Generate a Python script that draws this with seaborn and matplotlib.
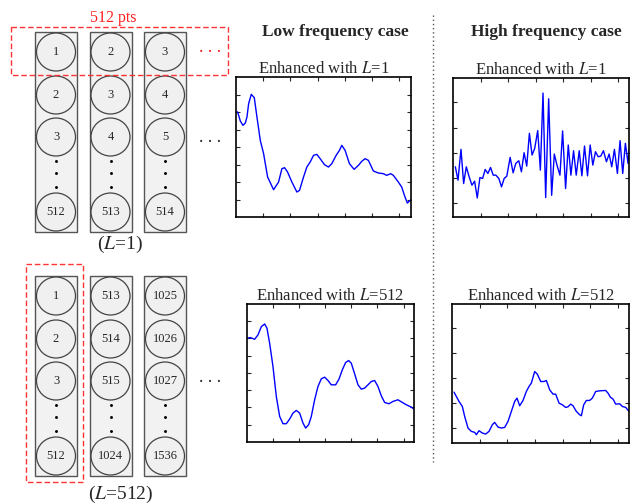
import matplotlib
matplotlib.use("Agg")
import matplotlib.pyplot as plt
from matplotlib.patches import Rectangle, Ellipse
import seaborn as sns

# frame contents for the two hop sizes
cols_l1 = [["1", "2", "3", "512"], ["2", "3", "4", "513"], ["3", "4", "5", "514"]]
cols_l512 = [["1", "2", "3", "512"], ["513", "514", "515", "1024"], ["1025", "1026", "1027", "1536"]]

# traces (sample index, amplitude in arbitrary units)
low_l1_x = [0, 5, 13, 21, 28, 33, 38, 46, 55, 63, 73, 83, 95, 113, 128, 138, 146, 155, 168, 183,
            191, 203, 213, 223, 233, 243, 253, 266, 278, 288, 301, 311, 318, 328, 341, 355, 368, 378,
            388, 398, 413, 428, 443, 453, 465, 473, 488, 498, 508, 515, 526]
low_l1_y = [315, 315, 288, 275, 282, 300, 340, 368, 358, 300, 230, 190, 120, 82, 105, 145, 148, 135,
            105, 75, 80, 120, 150, 165, 185, 188, 175, 157, 150, 160, 185, 200, 215, 200, 160, 143, 155,
            167, 175, 170, 138, 132, 130, 125, 130, 125, 105, 90, 60, 42, 52]

high_l1_x = [7, 15, 24, 32, 40, 48, 57, 65, 73, 81, 89, 97, 105, 113, 121, 129, 138, 146, 154, 162,
             172, 181, 189, 198, 206, 214, 222, 230, 238, 246, 255, 263, 271, 279, 288, 297, 305, 313,
             322, 330, 339, 347, 355, 363, 371, 380, 388, 396, 405, 413, 421, 429, 437, 445, 453, 462,
             470, 478, 486, 495, 503, 511, 519, 527, 530]
high_l1_y = [150, 110, 202, 100, 150, 122, 95, 107, 57, 118, 115, 142, 130, 148, 125, 125, 115, 90,
             115, 122, 178, 132, 160, 168, 135, 192, 152, 250, 185, 205, 258, 140, 370, 58, 353, 65, 188,
             155, 125, 257, 85, 215, 125, 198, 125, 198, 123, 212, 123, 215, 155, 195, 180, 182, 198, 165,
             188, 150, 202, 130, 228, 130, 220, 160, 200]

low_l512_x = [0, 10, 23, 33, 43, 53, 60, 68, 78, 88, 98, 108, 118, 128, 138, 148, 158, 168, 176, 185,
              193, 203, 213, 223, 233, 243, 253, 266, 276, 286, 296, 305, 313, 323, 333, 343, 353, 363,
              373, 383, 393, 403, 413, 426, 438, 453, 466, 478, 493, 501]
low_l512_y = [312, 314, 309, 322, 347, 355, 342, 297, 227, 137, 77, 55, 55, 69, 87, 95, 87, 57, 42, 52,
              77, 127, 167, 190, 195, 185, 172, 172, 189, 217, 239, 245, 237, 205, 172, 159, 162, 172,
              182, 185, 167, 139, 119, 115, 122, 127, 119, 112, 105, 99]

high_l512_x = [6, 13, 21, 31, 38, 48, 58, 68, 73, 81, 91, 101, 111, 121, 128, 138, 148, 158, 168, 178,
               188, 195, 203, 213, 223, 231, 238, 248, 256, 266, 276, 283, 293, 303, 311, 321, 331, 341,
               348, 356, 363, 373, 383, 388, 395, 403, 413, 421, 431, 443, 461, 468, 475, 483, 491, 503,
               511, 521, 531]
high_l512_y = [153, 140, 125, 110, 80, 45, 35, 32, 25, 37, 30, 27, 35, 55, 62, 48, 45, 47, 65, 95, 125,
               135, 112, 128, 155, 170, 180, 215, 207, 185, 185, 188, 160, 147, 147, 120, 115, 107, 109,
               117, 112, 95, 85, 82, 115, 128, 128, 135, 155, 157, 158, 150, 138, 132, 117, 118, 110, 107,
               95]

sns.set_style("white")
plt.rcParams["font.family"] = ["Liberation Serif", "DejaVu Serif"]
plt.rcParams["mathtext.fontset"] = "stix"

fig = plt.figure(figsize=(6.32, 5.04), dpi=100)

# schematic layer in pixel units
dia = fig.add_axes([0, 0, 1, 1])
dia.set_xlim(0, 632)
dia.set_ylim(504, 0)
dia.axis("off")

col_x0, col_dx = 56, 54.5
circle_dy = [20, 63, 105, 180]
dot_dy = [129, 141, 155]


def draw_frames(ax, top, cols):
    for i, labels in enumerate(cols):
        cx = col_x0 + i * col_dx
        ax.add_patch(Rectangle((cx - 21, top), 42, 200, fc="#f2f2f2", ec="#555555", lw=1))
        for lab, dy in zip(labels, circle_dy):
            ax.add_patch(Ellipse((cx, top + dy), 39, 38, fc="#f0f0f0", ec="#444444", lw=0.9))
            ax.text(cx, top + dy, lab, ha="center", va="center", fontsize=9)
        ax.plot([cx] * 3, [top + d for d in dot_dy], ls="none", marker="o", ms=1.1, color="k")


draw_frames(dia, 32, cols_l1)
draw_frames(dia, 276, cols_l512)

dia.add_patch(Rectangle((11, 27), 217, 48, fill=False, ec="#ff3333", ls=(0, (4, 2)), lw=1))
dia.add_patch(Rectangle((26, 264), 57, 218, fill=False, ec="#ff3333", ls=(0, (4, 2)), lw=1))
dia.text(113, 18, "512 pts", color="#ff2222", ha="center", va="center", fontsize=11.5)
dia.text(210, 47, ". . .", color="#ff2222", ha="center", va="center", fontsize=13)
dia.text(210, 137, ". . .", ha="center", va="center", fontsize=13)
dia.text(210, 378, ". . .", ha="center", va="center", fontsize=13)
dia.text(120, 244, "($L$=1)", ha="center", va="center", fontsize=14)
dia.text(121, 494, "($L$=512)", ha="center", va="center", fontsize=14)

dia.text(335, 32, "Low frequency case", ha="center", va="center", fontsize=12.5, fontweight="bold")
dia.text(546, 32, "High frequency case", ha="center", va="center", fontsize=12.5, fontweight="bold")
dia.plot([433, 433], [15, 462], ls=(0, (1, 2)), color="#555555", lw=1)

panels = [
    ([0.3734, 0.5694, 0.2769, 0.2778], low_l1_x, low_l1_y, 526, 420, 81.7, 52.5, 0, "Enhanced with $L$=1"),
    ([0.7168, 0.5694, 0.2785, 0.2758], high_l1_x, high_l1_y, 530, 415, 83, 75, 42, "Enhanced with $L$=1"),
    ([0.3908, 0.1230, 0.2642, 0.2738], low_l512_x, low_l512_y, 501, 415, 78.3, 52, 0, "Enhanced with $L$=512"),
    ([0.7152, 0.1210, 0.2801, 0.2758], high_l512_x, high_l512_y, 531, 418, 83, 75, 45, "Enhanced with $L$=512"),
]

for rect, xs, ys, xmax, ymax, xstep, ystep, y0, title in panels:
    ax = fig.add_axes(rect)
    sns.lineplot(x=xs, y=ys, ax=ax, color="#0000ff", lw=1)
    ax.set_xlim(0, xmax)
    ax.set_ylim(0, ymax)
    xt = [xstep * k for k in range(1, int(xmax / xstep) + 1) if xstep * k < xmax]
    first = y0 if y0 > 0 else ystep
    yt = [first + ystep * k for k in range(0, 10) if first + ystep * k < ymax - 5]
    ax.set_xticks(xt)
    ax.set_yticks(yt)
    ax.set_xticklabels([])
    ax.set_yticklabels([])
    ax.tick_params(direction="in", top=True, right=True, left=True, bottom=True, length=3, width=0.8)
    for sp in ax.spines.values():
        sp.set_color("black")
        sp.set_linewidth(1.2)
    ax.set_title(title, fontsize=12, pad=3)

fig.savefig("out.png", dpi=100)
